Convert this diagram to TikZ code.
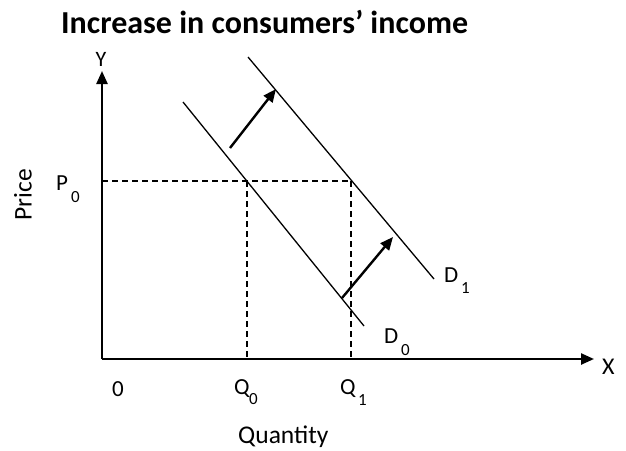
\documentclass[tikz,border=0pt]{standalone}
\usepackage{fontspec}
\setmainfont{Carlito}
\usetikzlibrary{arrows.meta}
\tikzset{
  axisline/.style={line width=2.4pt,-{Triangle[length=13pt,width=11pt]}},
  demand/.style={line width=1.3pt},
  guide/.style={line width=1.3pt,dash pattern=on 6pt off 4pt},
  shiftarrow/.style={line width=2.4pt,-{Triangle[length=13pt,width=11pt]}},
  lbl/.style={inner sep=0pt,anchor=base west,font=\fontsize{23}{23}\selectfont},
  sub/.style={inner sep=0pt,anchor=base west,font=\fontsize{17}{17}\selectfont},
  axtitle/.style={inner sep=0pt,font=\fontsize{25.5}{25.5}\selectfont}
}
\begin{document}
\begin{tikzpicture}[x=1pt,y=-1pt]
\useasboundingbox (0,0) rectangle (626,450);
% coordinates
\coordinate (O) at (102,359);
\coordinate (Ytip) at (102,71);
\coordinate (Xtip) at (594,359);
\coordinate (D0a) at (183,102);
\coordinate (D0b) at (364,326);
\coordinate (D1a) at (248,57);
\coordinate (D1b) at (434,279);
\coordinate (E0) at (247,181);
\coordinate (E1) at (351,181);
\coordinate (P0) at (102,181);
\coordinate (Q0) at (247,359);
\coordinate (Q1) at (351,359);
\coordinate (A1s) at (230,148);
\coordinate (A1e) at (276,89);
\coordinate (A2s) at (342,298);
\coordinate (A2e) at (393,237);
% title
\node[inner sep=0pt,anchor=base west,font=\fontsize{32}{32}\selectfont\bfseries] (title) at (61,33) {Increase in consumers’ income};
% axes
\draw[axisline] (O) -- (Ytip);
\draw[axisline] (O) -- (Xtip);
% guides
\draw[guide] (P0) -- (E1);
\draw[guide] (E0) -- (Q0);
\draw[guide] (E1) -- (Q1);
% demand curves
\draw[demand] (D0a) -- (D0b);
\draw[demand] (D1a) -- (D1b);
% shift arrows
\draw[shiftarrow] (A1s) -- (A1e);
\draw[shiftarrow] (A2s) -- (A2e);
% labels
\node[inner sep=0pt,anchor=base,font=\fontsize{22}{22}\selectfont] (ylab) at (101,66) {Y};
\node[inner sep=0pt,anchor=base west,font=\fontsize{24}{24}\selectfont] (xlab) at (602,374) {X};
\node[lbl] (zero) at (112,396) {0};
\node[lbl] (p0lab) at (56,190) {P};
\node[sub] (p0sub) at (71,202) {0};
\node[axtitle,rotate=90] (price) at (23,195) {Price};
\node[lbl] (q0lab) at (234,394) {Q};
\node[sub] (q0sub) at (249,404) {0};
\node[lbl] (q1lab) at (340,394) {Q};
\node[sub] (q1sub) at (358,405) {1};
\node[axtitle,anchor=base west] (qty) at (238,443) {Quantity};
\node[lbl] (d0lab) at (384,343) {D};
\node[sub] (d0sub) at (401,355) {0};
\node[lbl] (d1lab) at (444,282) {D};
\node[sub] (d1sub) at (461,293) {1};
\end{tikzpicture}
\end{document}
